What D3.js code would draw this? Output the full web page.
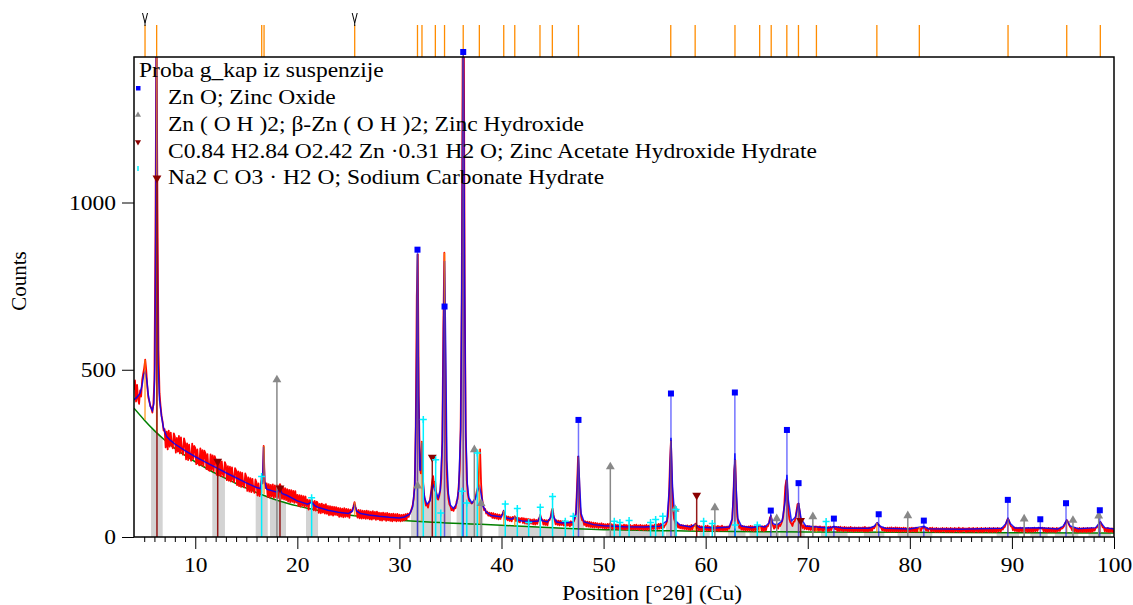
<!DOCTYPE html>
<html>
<head>
<meta charset="utf-8">
<script src="https://cdn.jsdelivr.net/npm/d3@7/dist/d3.min.js"></script>
<style>
body { margin: 0; background: #fff; }
text { font-family: "Liberation Serif", "Times New Roman", serif; fill: #000; }
</style>
</head>
<body>
<svg width="1133" height="605"></svg>
<script>

// observed scan: start angle, step (deg 2theta) and counts, one row per degree
var obsStart = 4, obsStep = 0.1;
var obsCounts = [
    440, 468, 405, 455, 412, 398, 438, 420, 470, 488,
    505, 530, 498, 452, 418, 405, 392, 385, 372, 398,
    470, 900, 1560, 980, 560, 430, 392, 362, 345, 318,
    322, 268, 315, 262, 318, 270, 312, 275, 265, 310,
    300, 252, 296, 255, 302, 250, 298, 258, 246, 295,
    282, 232, 280, 230, 276, 238, 228, 279, 233, 272,
    266, 218, 262, 221, 214, 265, 216, 260, 212, 258,
    250, 203, 248, 200, 198, 247, 201, 244, 196, 242,
    232, 186, 230, 184, 228, 182, 226, 188, 180, 224,
    215, 170, 212, 168, 210, 166, 208, 172, 164, 206,
    199, 155, 196, 152, 194, 150, 192, 156, 148, 190,
    181, 138, 178, 136, 176, 134, 174, 140, 132, 172,
    163, 124, 160, 122, 141, 178, 160, 272, 168, 146,
    160, 120, 158, 118, 156, 121, 157, 117, 154, 119,
    155, 116, 151, 158, 150, 114, 148, 112, 146, 110,
    143, 106, 141, 104, 140, 105, 138, 102, 137, 103,
    126, 93, 125, 91, 124, 94, 122, 90, 121, 92,
    112, 82, 110, 104, 112, 106, 80, 108, 79, 106,
    101, 72, 99, 71, 100, 73, 97, 70, 98, 69,
    93, 65, 92, 66, 91, 64, 90, 66, 89, 65,
    87, 60, 86, 61, 85, 59, 86, 60, 84, 61,
    83, 57, 82, 74, 82, 92, 104, 90, 80, 58,
    81, 56, 80, 55, 79, 56, 78, 54, 79, 55,
    77, 53, 76, 52, 77, 54, 75, 51, 76, 53,
    73, 50, 72, 49, 73, 51, 71, 48, 72, 50,
    70, 48, 69, 47, 70, 49, 68, 47, 69, 48,
    67, 47, 66, 48, 67, 50, 68, 52, 70, 60,
    70, 75, 84, 96, 115, 160, 330, 720, 845, 420,
    210, 190, 285, 175, 130, 112, 94, 99, 88, 104,
    112, 135, 165, 182, 150, 165, 135, 115, 112, 122,
    140, 175, 290, 620, 850, 520, 230, 150, 115, 98,
    92, 80, 86, 78, 89, 86, 106, 114, 150, 200,
    330, 700, 1500, 1600, 720, 300, 170, 128, 112, 105,
    102, 100, 104, 108, 115, 125, 140, 150, 200, 262,
    160, 115, 95, 80, 84, 70, 76, 64, 73, 62,
    72, 57, 71, 56, 69, 55, 68, 53, 67, 54,
    66, 68, 78, 66, 52, 62, 50, 61, 48, 59,
    47, 60, 54, 62, 48, 58, 45, 57, 44, 55,
    57, 42, 56, 40, 55, 39, 54, 38, 53, 40,
    52, 38, 53, 37, 51, 39, 52, 56, 66, 54,
    52, 37, 51, 36, 50, 35, 51, 50, 58, 76,
    85, 66, 52, 38, 50, 36, 49, 35, 48, 36,
    47, 34, 48, 33, 46, 34, 45, 32, 47, 35,
    43, 48, 56, 75, 150, 240, 180, 90, 62, 50,
    50, 36, 47, 32, 46, 31, 45, 30, 44, 29,
    43, 28, 42, 29, 41, 27, 40, 28, 41, 27,
    39, 26, 38, 25, 39, 27, 40, 25, 38, 24,
    38, 24, 37, 25, 36, 23, 37, 24, 35, 23,
    37, 22, 36, 24, 35, 23, 36, 22, 34, 23,
    36, 22, 37, 23, 35, 21, 36, 23, 35, 21,
    35, 22, 36, 21, 34, 23, 37, 22, 35, 24,
    37, 23, 38, 24, 39, 25, 40, 26, 36, 28,
    35, 38, 46, 62, 110, 220, 288, 170, 85, 55,
    46, 34, 42, 28, 37, 26, 36, 25, 35, 24,
    34, 23, 35, 22, 33, 21, 36, 22, 34, 33,
    40, 27, 34, 20, 33, 19, 32, 18, 32, 22,
    33, 19, 34, 20, 31, 18, 32, 21, 33, 18,
    32, 19, 33, 18, 32, 20, 34, 19, 31, 20,
    31, 20, 32, 25, 33, 40, 55, 110, 200, 230,
    120, 60, 40, 27, 35, 22, 33, 21, 32, 20,
    31, 19, 32, 20, 33, 19, 32, 18, 31, 20,
    32, 19, 33, 32, 32, 19, 32, 18, 33, 20,
    32, 32, 42, 58, 62, 45, 34, 25, 36, 28,
    37, 25, 38, 33, 40, 48, 62, 95, 150, 170,
    140, 80, 54, 44, 40, 33, 45, 46, 56, 78,
    98, 100, 78, 52, 38, 27, 35, 24, 33, 23,
    33, 22, 32, 21, 31, 20, 32, 19, 32, 20,
    31, 19, 32, 20, 30, 18, 31, 20, 30, 18,
    30, 18, 31, 20, 29, 31, 30, 23, 30, 18,
    30, 18, 31, 19, 29, 17, 30, 19, 29, 17,
    29, 17, 30, 18, 28, 16, 29, 18, 28, 17,
    29, 17, 28, 18, 29, 16, 30, 17, 28, 16,
    29, 18, 28, 19, 30, 26, 32, 38, 42, 36,
    35, 30, 27, 20, 28, 18, 27, 17, 28, 17,
    28, 16, 29, 17, 27, 16, 29, 17, 28, 16,
    28, 16, 27, 17, 28, 16, 27, 17, 26, 16,
    27, 16, 28, 17, 27, 16, 28, 16, 26, 27,
    25, 18, 28, 27, 30, 26, 19, 27, 17, 26,
    27, 16, 28, 17, 26, 15, 27, 16, 26, 15,
    26, 16, 27, 17, 26, 15, 27, 16, 26, 15,
    27, 16, 26, 15, 27, 17, 26, 16, 28, 15,
    26, 16, 27, 17, 26, 15, 26, 16, 27, 16,
    26, 16, 27, 15, 26, 17, 27, 15, 26, 16,
    27, 15, 26, 16, 27, 17, 26, 15, 27, 16,
    26, 15, 27, 16, 26, 15, 27, 17, 26, 16,
    27, 22, 28, 30, 38, 48, 55, 50, 40, 32,
    31, 20, 29, 18, 28, 17, 27, 16, 28, 17,
    27, 16, 28, 17, 26, 15, 27, 16, 26, 16,
    27, 16, 28, 17, 26, 18, 28, 25, 28, 25,
    28, 17, 27, 16, 26, 15, 27, 16, 26, 16,
    27, 16, 26, 15, 27, 17, 26, 18, 28, 25,
    28, 32, 40, 47, 50, 44, 36, 30, 27, 20,
    28, 17, 27, 16, 26, 15, 27, 16, 26, 15,
    27, 16, 26, 15, 27, 16, 26, 15, 27, 16,
    26, 19, 27, 28, 32, 38, 43, 44, 36, 29,
    29, 17, 26, 16, 27, 15, 25, 16, 26, 15,
    21
];

// calculated profile [angle, counts]
var calcProfile = [
    [4.0, 410], [4.3, 418], [4.6, 430], [4.8, 455], [4.95, 485], [5.1, 495], [5.25, 470], [5.4, 425],
    [5.6, 390], [5.8, 378], [5.95, 400], [6.05, 520], [6.12, 900], [6.2, 1600], [6.28, 900], [6.36, 520],
    [6.5, 410], [6.7, 360], [6.9, 325], [7.2, 300], [7.6, 288], [8.0, 278], [9, 258], [10, 240],
    [11, 224], [12, 208], [13, 192], [14, 177], [15, 162], [16, 148], [16.4, 145], [16.5, 170],
    [16.6, 160], [16.7, 270], [16.8, 165], [17.0, 143], [18, 134], [18.3, 145], [18.5, 130], [19, 124],
    [20, 108], [21, 98], [21.4, 104], [21.7, 94], [22, 89], [23, 80], [24, 74], [25, 70],
    [25.4, 78], [25.6, 98], [25.8, 78], [26.2, 70], [27, 66], [28, 62], [29, 59], [30, 57],
    [30.5, 60], [31, 68], [31.3, 90], [31.5, 150], [31.65, 420], [31.77, 845], [31.88, 420], [32.0, 200],
    [32.1, 200], [32.2, 282], [32.3, 170], [32.45, 118], [32.7, 98], [33.0, 108], [33.2, 150], [33.3, 155],
    [33.45, 140], [33.55, 135], [33.8, 118], [34.0, 140], [34.2, 280], [34.32, 620], [34.42, 825], [34.52, 600],
    [34.65, 230], [34.8, 130], [35.0, 95], [35.3, 85], [35.6, 100], [35.8, 140], [36.0, 320], [36.12, 800],
    [36.25, 1600], [36.38, 800], [36.5, 320], [36.65, 160], [36.8, 118], [37.1, 102], [37.4, 112], [37.65, 135],
    [37.85, 151], [38.0, 130], [38.2, 92], [38.5, 75], [39, 64], [40, 60], [40.2, 76], [40.4, 58],
    [41, 53], [41.3, 60], [41.6, 51], [42, 48], [43, 46], [43.6, 48], [43.78, 64], [43.95, 49],
    [44.5, 45], [44.85, 60], [44.98, 82], [45.1, 60], [45.4, 45], [46, 42], [47, 44], [47.3, 70],
    [47.42, 150], [47.54, 243], [47.66, 150], [47.8, 70], [48.1, 45], [49, 37], [50, 34], [52, 31],
    [54, 30], [55.5, 32], [56.2, 48], [56.45, 150], [56.6, 297], [56.75, 150], [57.0, 50], [57.5, 36],
    [58.5, 30], [58.97, 38], [59.4, 29], [61, 27], [62.3, 30], [62.6, 55], [62.75, 150], [62.86, 250],
    [62.98, 150], [63.15, 55], [63.5, 33], [64.5, 28], [65.29, 33], [65.8, 30], [66.2, 42], [66.38, 63],
    [66.6, 40], [67.0, 36], [67.5, 48], [67.8, 110], [67.96, 186], [68.1, 110], [68.4, 48], [68.8, 60],
    [69.1, 101], [69.35, 55], [69.8, 33], [70.85, 30], [72, 27], [72.6, 31], [73.5, 26], [76.0, 26],
    [76.5, 32], [76.8, 42], [77.1, 32], [77.6, 26], [80, 24], [80.9, 29], [81.4, 32], [81.8, 25],
    [85, 23], [89.0, 26], [89.4, 40], [89.62, 55], [89.85, 40], [90.3, 27], [92.78, 28], [94.5, 24],
    [95.0, 32], [95.37, 50], [95.7, 33], [96.5, 25], [98.2, 28], [98.66, 45], [99.1, 28], [100, 24]
];

// background [angle, counts]
var background = [
    [4, 385], [5, 350], [6, 318], [7, 290], [8, 265], [9, 244], [10, 225], [11, 207], [12, 190],
    [13, 175], [14, 160], [15, 146], [16, 133], [17, 121], [18, 110], [19, 101], [20, 93], [21, 86],
    [22, 80], [23, 74], [24, 70], [25, 66], [26, 62], [27, 58], [28, 55], [29, 52], [30, 50],
    [32, 46], [34, 43], [36, 40], [38, 38], [40, 35], [42, 32], [44, 29], [46, 26], [48, 24],
    [50, 22], [52, 21], [55, 19], [58, 18], [60, 17], [65, 16], [70, 15], [80, 14], [90, 13], [100, 12]
];

// peak list: [angle, top, base]
var peakList = [
    [5.08, 530, 350], [6.22, 1560, 315], [16.51, 178, 130], [16.74, 272, 128], [25.62, 104, 64],
    [31.77, 845, 47], [32.21, 285, 46], [33.52, 165, 44], [34.42, 850, 43], [36.25, 1600, 40],
    [37.83, 262, 38], [40.22, 78, 35], [41.30, 62, 34], [43.77, 66, 30], [44.98, 85, 28],
    [47.54, 240, 25], [56.58, 288, 19], [58.97, 38, 18], [62.87, 230, 17], [65.29, 32, 16],
    [66.42, 62, 16], [67.95, 170, 16], [69.09, 100, 15], [70.85, 28, 15], [76.77, 42, 14],
    [80.93, 30, 14], [89.62, 55, 13], [95.37, 50, 13], [98.66, 44, 12]
];
var flaggedPeaks = [5.08, 25.62];

// reference patterns [angle, counts]
var refZnO = [
    [31.77, 859], [34.42, 689], [36.25, 1450], [47.54, 350], [56.60, 429], [62.86, 432],
    [66.38, 79], [67.96, 320], [69.10, 161], [72.56, 55], [76.95, 68], [81.37, 49],
    [89.60, 111], [92.78, 53], [95.30, 101], [98.61, 80]
];
var refZnOH2 = [
    [18.0, 464], [31.78, 147], [37.34, 255], [38.0, 94], [50.66, 204], [57.0, 77], [60.9, 82],
    [66.96, 49], [70.5, 55], [79.8, 58], [91.2, 48], [95.98, 44], [98.5, 57]
];
var refAcetate = [
    [6.25, 1076], [12.2, 229], [18.3, 149], [33.22, 241], [59.12, 128], [69.3, 52]
];
var refNa2CO3 = [
    [16.5, 181], [21.4, 117], [32.34, 351], [33.55, 231], [34.05, 72], [36.15, 137], [36.6, 102],
    [37.63, 251], [40.37, 99], [41.55, 85], [42.66, 43], [43.8, 89], [45.0, 121], [46.25, 47],
    [47.03, 62], [51.05, 47], [51.6, 43], [52.5, 49], [54.6, 43], [55.1, 52], [55.8, 62],
    [57.1, 82], [59.8, 47], [60.65, 40], [62.9, 36], [65.06, 36], [71.8, 46]
];

// fitted ranges shaded grey: under background / under profile
var greyBgRanges = [
    [5.67, 6.81], [11.67, 12.91], [15.92, 17.1], [17.32, 18.89], [20.85, 22.03], [39.7, 46.9],
    [50.2, 56.0], [59.4, 60.4], [64.3, 67.2], [71.3, 73.9], [75.5, 77.5], [78.8, 82.2],
    [88.5, 90.7], [91.8, 93.5], [94.2, 96.5], [97.5, 99.7]
];
var greyCalcRanges = [
    [31.14, 35.05], [35.6, 38.2], [47.0, 48.1], [56.1, 57.2], [62.2, 63.9], [67.3, 69.7]
];

var sampleName = "Proba g_kap iz suspenzije";
var phaseNames = [
    "Zn O; Zinc Oxide",
    "Zn ( O H )2; \u03b2-Zn ( O H )2; Zinc Hydroxide",
    "C0.84 H2.84 O2.42 Zn \u00b70.31 H2 O; Zinc Acetate Hydroxide Hydrate",
    "Na2 C O3 \u00b7 H2 O; Sodium Carbonate Hydrate"
];
var xMajor = [10, 20, 30, 40, 50, 60, 70, 80, 90, 100];
var xMinor = d3.range(5, 100).filter(function (d) { return d % 10 !== 0; });
var yTicks = [0, 500, 1000];

var svg = d3.select("svg"),
    plot = { left: 134, right: 1114, top: 57, bottom: 537 },
    stretch = 1.12,
    fontSize = "21px";

var x = d3.scaleLinear().domain([4, 100]).range([plot.left, plot.right]);
var y = d3.scaleLinear().domain([0, 1435]).range([plot.bottom, plot.top]);

var obs = obsCounts.map(function (c, i) { return [obsStart + i * obsStep, c]; });

var defs = svg.append("defs");
defs.append("clipPath").attr("id", "plotclip")
    .append("rect")
    .attr("x", plot.left).attr("y", plot.top)
    .attr("width", plot.right - plot.left).attr("height", plot.bottom - plot.top);

function addRangeClip(id, ranges) {
    defs.append("clipPath").attr("id", id)
        .selectAll("rect")
        .data(ranges)
        .enter().append("rect")
        .attr("x", function (d) { return x(d[0]); })
        .attr("y", plot.top)
        .attr("width", function (d) { return x(d[1]) - x(d[0]); })
        .attr("height", plot.bottom - plot.top);
}
addRangeClip("greybg", greyBgRanges);
addRangeClip("greycalc", greyCalcRanges);

var area = d3.area()
    .x(function (d) { return x(d[0]); })
    .y0(y(0))
    .y1(function (d) { return y(d[1]); });

var line = d3.line()
    .x(function (d) { return x(d[0]); })
    .y(function (d) { return y(d[1]); });

var layer = svg.append("g").attr("clip-path", "url(#plotclip)");

// grey fitted ranges
layer.append("g").attr("clip-path", "url(#greybg)")
    .append("path")
    .attr("d", area.curve(d3.curveMonotoneX)(background))
    .attr("fill", "#d3d3d3");
layer.append("g").attr("clip-path", "url(#greycalc)")
    .append("path")
    .attr("d", area.curve(d3.curveLinear)(calcProfile))
    .attr("fill", "#d3d3d3");

// background
layer.append("path")
    .attr("d", line.curve(d3.curveMonotoneX)(background))
    .attr("fill", "none")
    .attr("stroke", "#008000")
    .attr("stroke-width", 1.5);

// observed
layer.append("path")
    .attr("d", line.curve(d3.curveLinear)(obs))
    .attr("fill", "none")
    .attr("stroke", "#ff0000")
    .attr("stroke-width", 1.8)
    .attr("stroke-linejoin", "round");

// calculated
layer.append("path")
    .attr("d", line.curve(d3.curveLinear)(calcProfile))
    .attr("fill", "none")
    .attr("stroke", "#0000ff")
    .attr("stroke-opacity", 0.85)
    .attr("stroke-width", 1.5);

// peak list inside the plot
layer.append("g")
    .selectAll("line")
    .data(peakList)
    .enter().append("line")
    .attr("x1", function (d) { return x(d[0]); })
    .attr("x2", function (d) { return x(d[0]); })
    .attr("y1", function (d) { return y(d[2]); })
    .attr("y2", function (d) { return y(d[1]); })
    .attr("stroke", "#ff8c00")
    .attr("stroke-opacity", 0.75)
    .attr("stroke-width", 1.5);

// peak list above the plot
svg.append("g")
    .selectAll("line")
    .data(peakList)
    .enter().append("line")
    .attr("x1", function (d) { return x(d[0]); })
    .attr("x2", function (d) { return x(d[0]); })
    .attr("y1", 25)
    .attr("y2", plot.top)
    .attr("stroke", "#ff8c00")
    .attr("stroke-width", 1.3);

svg.append("g")
    .selectAll("path")
    .data(flaggedPeaks)
    .enter().append("path")
    .attr("d", function (d) {
        var px = x(d);
        return "M" + (px - 2.5) + ",13L" + px + ",23L" + (px + 2.5) + ",13M" + px + ",23L" + px + ",26";
    })
    .attr("fill", "none")
    .attr("stroke", "#000")
    .attr("stroke-width", 1);

// reference sticks
function drawSticks(data, color, opacity) {
    svg.append("g")
        .selectAll("line")
        .data(data)
        .enter().append("line")
        .attr("x1", function (d) { return x(d[0]); })
        .attr("x2", function (d) { return x(d[0]); })
        .attr("y1", function (d) { return y(d[1]); })
        .attr("y2", y(0))
        .attr("stroke", color)
        .attr("stroke-opacity", opacity)
        .attr("stroke-width", 1.5);
}
drawSticks(refZnOH2, "#888888", 1);
drawSticks(refAcetate, "#8b0000", 0.9);
drawSticks(refNa2CO3, "#00f0ff", 1);
drawSticks(refZnO, "#0000ff", 0.55);

var triangle = d3.symbol().type(d3.symbolTriangle).size(34);

svg.append("g")
    .selectAll("path")
    .data(refZnOH2)
    .enter().append("path")
    .attr("d", triangle)
    .attr("transform", function (d) { return "translate(" + x(d[0]) + "," + (y(d[1]) - 2) + ")"; })
    .attr("fill", "#888888");

svg.append("g")
    .selectAll("path")
    .data(refAcetate)
    .enter().append("path")
    .attr("d", triangle)
    .attr("transform", function (d) { return "translate(" + x(d[0]) + "," + (y(d[1]) + 1) + ") rotate(180)"; })
    .attr("fill", "#8b0000");

svg.append("g")
    .selectAll("path")
    .data(refNa2CO3)
    .enter().append("path")
    .attr("d", function (d) {
        var px = x(d[0]), py = y(d[1]);
        return "M" + (px - 3.5) + "," + py + "H" + (px + 3.5) + "M" + px + "," + (py - 3.5) + "V" + (py + 3.5);
    })
    .attr("stroke", "#00f0ff")
    .attr("stroke-width", 1.5);

svg.append("g")
    .selectAll("rect")
    .data(refZnO)
    .enter().append("rect")
    .attr("x", function (d) { return x(d[0]) - 3; })
    .attr("y", function (d) { return y(d[1]) - 3; })
    .attr("width", 6)
    .attr("height", 6)
    .attr("fill", "#0000ff");

// axes
function styleAxis(g) {
    g.select(".domain").remove();
    g.selectAll("line").attr("stroke", "#000");
    g.selectAll("text").style("font-size", fontSize).style("font-family", "Liberation Serif");
}

svg.append("g")
    .attr("transform", "translate(0," + plot.bottom + ")")
    .call(d3.axisBottom(x).tickValues(xMinor).tickSize(5).tickFormat(""))
    .call(styleAxis);

svg.append("g")
    .attr("transform", "translate(0," + plot.bottom + ")")
    .call(d3.axisBottom(x).tickValues(xMajor).tickSize(12).tickPadding(8).tickFormat(d3.format("d")))
    .call(styleAxis)
    .selectAll("text")
    .attr("transform", "scale(" + stretch + ",1)");

svg.append("g")
    .attr("transform", "translate(" + plot.left + ",0)")
    .call(d3.axisLeft(y).tickValues(yTicks).tickSize(12).tickPadding(6).tickFormat(d3.format("d")))
    .call(styleAxis)
    .selectAll("text")
    .attr("x", -18 / stretch)
    .attr("transform", "scale(" + stretch + ",1)");

// frame
svg.append("rect")
    .attr("x", plot.left).attr("y", plot.top)
    .attr("width", plot.right - plot.left).attr("height", plot.bottom - plot.top)
    .attr("fill", "none")
    .attr("stroke", "#000")
    .attr("stroke-width", 1.5);

svg.append("text")
    .attr("transform", "translate(26,281) rotate(-90)")
    .attr("text-anchor", "middle")
    .style("font-size", fontSize)
    .text("Counts");

svg.append("text")
    .attr("transform", "translate(562,600) scale(" + stretch + ",1)")
    .style("font-size", fontSize)
    .text("Position [\u00b02\u03b8] (Cu)");

// legend
var legend = svg.append("g").attr("class", "legend");
legend.append("text")
    .attr("transform", "translate(139,77.3) scale(" + stretch + ",1)")
    .style("font-size", fontSize)
    .text(sampleName);

legend.selectAll(".phase")
    .data(phaseNames)
    .enter().append("text")
    .attr("class", "phase")
    .attr("transform", function (d, i) { return "translate(168," + (104.3 + i * 26.67) + ") scale(" + stretch + ",1)"; })
    .style("font-size", fontSize)
    .text(function (d) { return d; });

legend.append("rect").attr("x", 136).attr("y", 86).attr("width", 4.5).attr("height", 4.5).attr("fill", "#0000ff");
legend.append("path").attr("d", d3.symbol().type(d3.symbolTriangle).size(16))
    .attr("transform", "translate(138,115)").attr("fill", "#888888");
legend.append("path").attr("d", d3.symbol().type(d3.symbolTriangle).size(16))
    .attr("transform", "translate(138,142) rotate(180)").attr("fill", "#8b0000");
legend.append("line").attr("x1", 138).attr("x2", 138).attr("y1", 166).attr("y2", 171)
    .attr("stroke", "#00f0ff").attr("stroke-width", 1.5);

</script>
</body>
</html>
